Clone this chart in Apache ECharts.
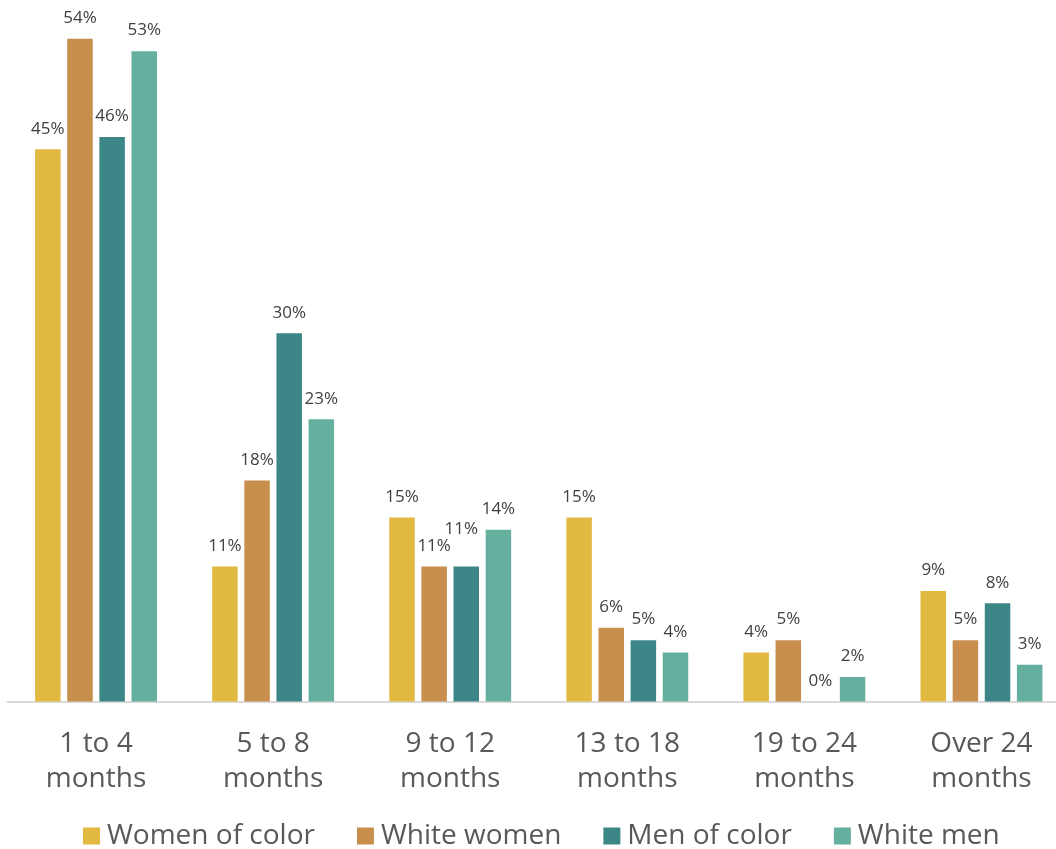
<!DOCTYPE html>
<html>
<head>
<meta charset="utf-8">
<script src="https://cdn.jsdelivr.net/npm/echarts@6/dist/echarts.min.js"></script>
<style>
html,body{margin:0;padding:0;background:#fff;}
#chart{width:1056px;height:849px;}
</style>
</head>
<body>
<div id="chart"></div>
<script>
const categories = ["1 to 4\nmonths", "5 to 8\nmonths", "9 to 12\nmonths", "13 to 18\nmonths", "19 to 24\nmonths", "Over 24\nmonths"];
const seriesNames = ["Women of color", "White women", "Men of color", "White men"];
const womenOfColor = [0.45, 0.11, 0.15, 0.15, 0.04, 0.09];
const whiteWomen = [0.54, 0.18, 0.11, 0.06, 0.05, 0.05];
const menOfColor = [0.46, 0.30, 0.11, 0.05, 0.00, 0.08];
const whiteMen = [0.53, 0.23, 0.14, 0.04, 0.02, 0.03];
const colors = ["#E1B941", "#C88E4D", "#3C8688", "#65AF9F"];

const values = [womenOfColor, whiteWomen, menOfColor, whiteMen];
const font = "'Open Sans', sans-serif";

function buildData(arr, si) {
  return arr.map((v, ci) => {
    if (si === 2 && ci === 2) {
      return { value: v, label: { offset: [-5, -17] } };
    }
    return v;
  });
}

const chart = echarts.init(document.getElementById('chart'));
chart.setOption({
  animation: false,
  grid: { left: 7.5, width: 1062.5, top: 26.6, bottom: 147.5, containLabel: false, outerBoundsMode: 'none' },
  legend: {
    data: seriesNames,
    left: 78,
    top: 817,
    itemWidth: 17,
    itemHeight: 17,
    itemGap: 42,
    icon: 'rect',
    textStyle: { fontFamily: font, fontSize: 28, color: '#595959', padding: [0, 0, 0, 2] }
  },
  xAxis: {
    type: 'category',
    data: categories,
    axisLine: { show: true, lineStyle: { color: '#D9D9D9', width: 2 } },
    axisTick: { show: false },
    axisLabel: { fontFamily: font, fontSize: 28, color: '#595959', lineHeight: 35, margin: 25, interval: 0 }
  },
  yAxis: {
    type: 'value',
    min: 0,
    max: 0.55,
    show: false,
    splitLine: { show: false }
  },
  series: seriesNames.map((name, i) => ({
    name: name,
    type: 'bar',
    data: buildData(values[i], i),
    barWidth: 25.5,
    barGap: '26%',
    itemStyle: { color: colors[i] },
    label: {
      show: true,
      position: 'top',
      distance: 12,
      fontFamily: font,
      fontSize: 17,
      color: '#404040',
      formatter: p => Math.round(p.value * 100) + '%'
    }
  }))
});
</script>
</body>
</html>
